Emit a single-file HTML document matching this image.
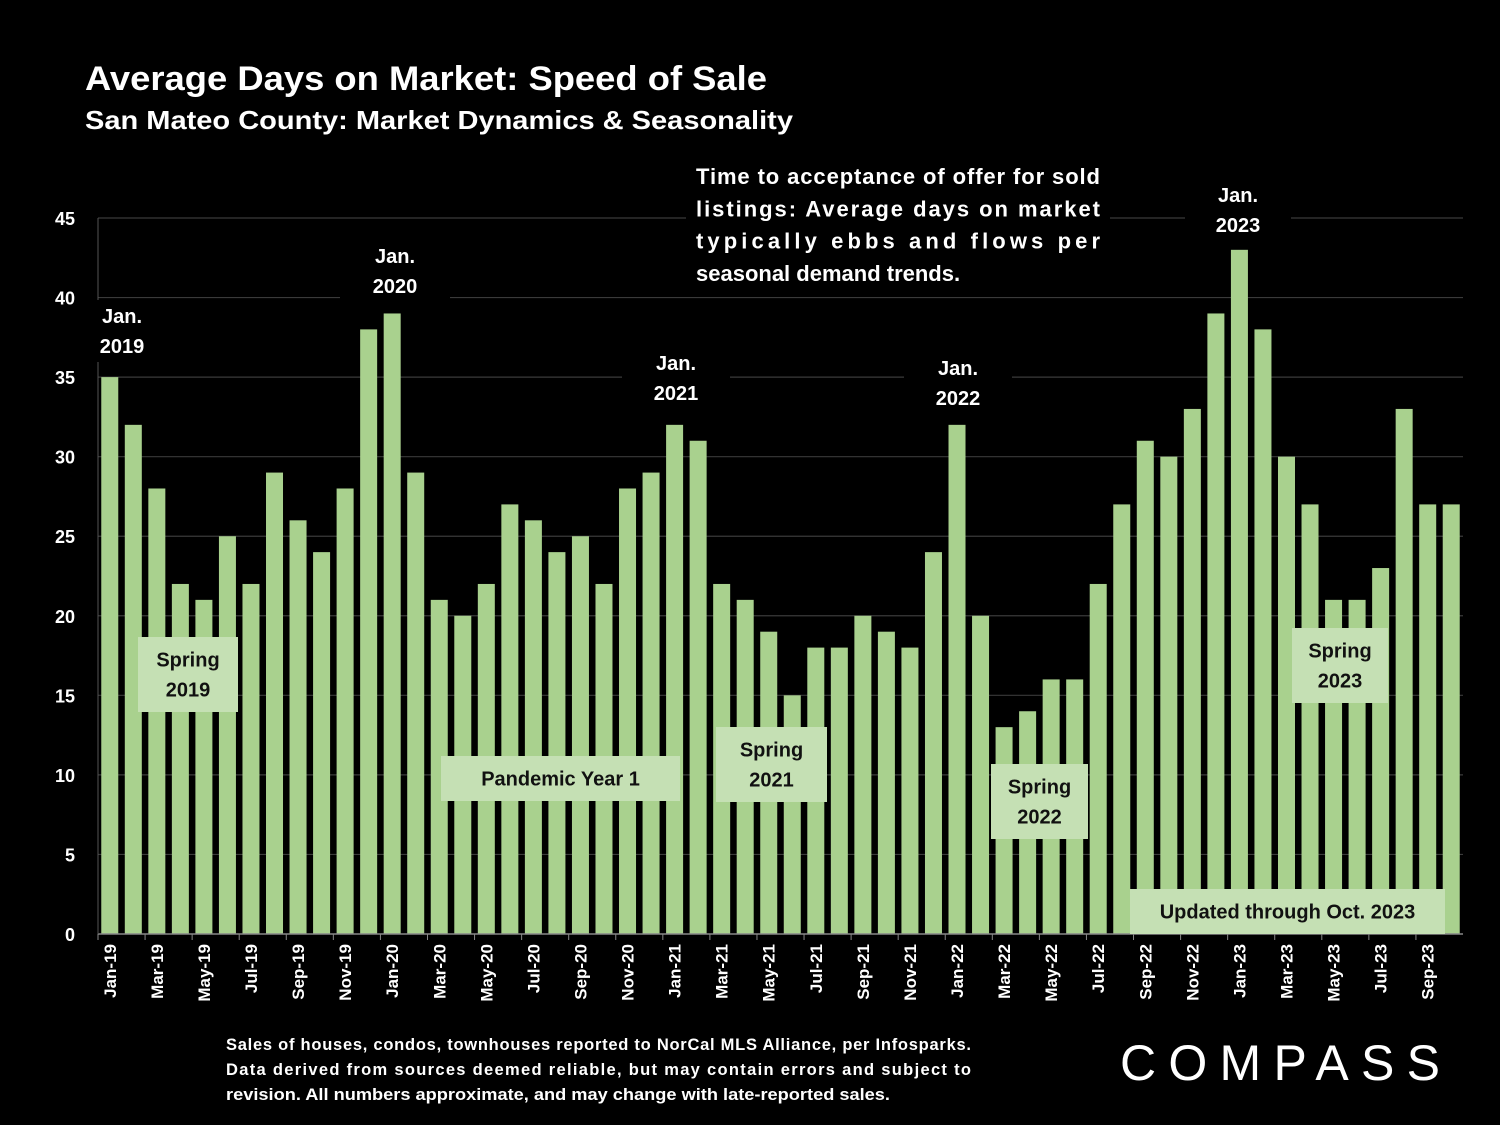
<!DOCTYPE html>
<html><head><meta charset="utf-8"><style>
body{margin:0;background:#000;}
svg{display:block;font-family:"Liberation Sans",sans-serif;font-weight:bold;}
</style></head><body>
<svg id="chart" width="1500" height="1125" viewBox="0 0 1500 1125" xmlns="http://www.w3.org/2000/svg">
<rect width="1500" height="1125" fill="#000"/>
<text x="85" y="90" fill="#fff" font-size="34" textLength="682" lengthAdjust="spacingAndGlyphs">Average Days on Market:  Speed of Sale</text>
<text x="85" y="129" fill="#fff" font-size="26" textLength="708" lengthAdjust="spacingAndGlyphs">San Mateo County: Market Dynamics &amp; Seasonality</text>
<g id="grid"></g>
<g id="bars"></g>
<g id="axes"></g>
<g id="notes"></g>
<g fill="#fff" font-size="16.5">
<text x="226" y="1050" textLength="745" lengthAdjust="spacing">Sales of houses, condos, townhouses reported to NorCal MLS Alliance, per Infosparks.</text>
<text x="226" y="1075" textLength="745" lengthAdjust="spacing">Data derived from sources deemed reliable, but may contain errors and subject to</text>
<text x="226" y="1100" textLength="664" lengthAdjust="spacingAndGlyphs">revision. All numbers approximate, and may change with late-reported sales.</text>
</g>
<text x="1120" y="1080" fill="#fff" font-size="50" font-weight="normal" textLength="320" lengthAdjust="spacing">COMPASS</text>
</svg>
<script>
const categories = ["Jan-19","Feb-19","Mar-19","Apr-19","May-19","Jun-19","Jul-19","Aug-19","Sep-19","Oct-19","Nov-19","Dec-19",
"Jan-20","Feb-20","Mar-20","Apr-20","May-20","Jun-20","Jul-20","Aug-20","Sep-20","Oct-20","Nov-20","Dec-20",
"Jan-21","Feb-21","Mar-21","Apr-21","May-21","Jun-21","Jul-21","Aug-21","Sep-21","Oct-21","Nov-21","Dec-21",
"Jan-22","Feb-22","Mar-22","Apr-22","May-22","Jun-22","Jul-22","Aug-22","Sep-22","Oct-22","Nov-22","Dec-22",
"Jan-23","Feb-23","Mar-23","Apr-23","May-23","Jun-23","Jul-23","Aug-23","Sep-23","Oct-23"];
const dom = [35,32,28,22,21,25,22,29,26,24,28,38,
39,29,21,20,22,27,26,24,25,22,28,29,
32,31,22,21,19,15,18,18,20,19,18,24,
32,20,13,14,16,16,22,27,31,30,33,39,
43,38,30,27,21,21,23,33,27,27];
const yTicks = [0,5,10,15,20,25,30,35,40,45];

const NS="http://www.w3.org/2000/svg";
const X0=98, X1=1463, Y0=934, Y45=218;
const step=(X1-X0)/categories.length;
const x=i=>X0+step*(i+0.5);
const y=v=>Y0-(Y0-Y45)*v/45;
function mk(tag,attrs,parent){const e=document.createElementNS(NS,tag);for(const k in attrs)e.setAttribute(k,attrs[k]);parent.appendChild(e);return e;}
const grid=document.getElementById('grid'),bars=document.getElementById('bars'),axes=document.getElementById('axes'),notes=document.getElementById('notes');
yTicks.forEach(t=>{
  if(t>0){const l=mk('line',{x1:X0,x2:X1,y1:y(t),y2:y(t),stroke:'#3a3a3a','stroke-width':1.2},grid);
  
  }
  const tx=mk('text',{x:75,y:y(t)+7,fill:'#fff','font-size':18,'text-anchor':'end'},axes);
  tx.textContent=t;
  
  
});
dom.forEach((v,i)=>{
  const r=mk('rect',{x:x(i)-8.5,y:y(v),width:17,height:Y0-y(v),fill:'#a9d18e'},bars);
  
  
});
const ax=mk('line',{x1:X0,x2:X1,y1:Y0,y2:Y0,stroke:'#888','stroke-width':1.5},axes);


const ay=mk('line',{x1:X0,x2:X0,y1:Y45,y2:Y0,stroke:'#555','stroke-width':1},axes);


categories.forEach((c,i)=>{
  if(i%2===0){
    mk('line',{x1:X0+step*i,x2:X0+step*i,y1:Y0,y2:Y0+6,stroke:'#888'},axes);
    const t=mk('text',{x:0,y:0,fill:'#fff','font-size':17,'text-anchor':'end',transform:`translate(${x(i)+6},944) rotate(-90)`},axes);
    t.textContent=c;
    
    
  }
});
function box(x0,y0,w,h,lines,fill,color,name){
  const g=mk('g',{},notes);
  
  
  mk('rect',{x:x0,y:y0,width:w,height:h,fill:fill},g);
  const lh=30, start=y0+h/2-(lines.length-1)*lh/2+7;
  lines.forEach((s,k)=>{const t=mk('text',{x:x0+w/2,y:start+k*lh,fill:color,'font-size':20,'text-anchor':'middle'},g);t.textContent=s;});
}
const LG='#c5e0b4';
box(138,637,100,75,['Spring','2019'],LG,'#111','spring-2019-label');
box(441,756,239,45,['Pandemic Year 1'],LG,'#111','pandemic-year-1-label');
box(716,727,111,75,['Spring','2021'],LG,'#111','spring-2021-label');
box(991,764,97,75,['Spring','2022'],LG,'#111','spring-2022-label');
box(1292,628,96,75,['Spring','2023'],LG,'#111','spring-2023-label');
box(1130,889,315,45,['Updated through Oct. 2023'],LG,'#111','updated-through-label');
box(86,300,72,62,['Jan.','2019'],'#000','#fff','jan-2019-label');
box(340,240,110,62,['Jan.','2020'],'#000','#fff','jan-2020-label');
box(622,347,108,62,['Jan.','2021'],'#000','#fff','jan-2021-label');
box(904,352,108,62,['Jan.','2022'],'#000','#fff','jan-2022-label');
box(1185,179,106,62,['Jan.','2023'],'#000','#fff','jan-2023-label');
const tg=mk('g',{},notes);


mk('rect',{x:686,y:155,width:424,height:132,fill:'#000'},tg);
[['Time to acceptance of offer for sold',true],['listings: Average days on market',true],['typically ebbs and flows per',true],['seasonal demand trends.',false]].forEach((l,k)=>{
  const a={x:696,y:184+k*32.3,fill:'#fff','font-size':22};
  if(l[1]){a.textLength=404;a.lengthAdjust='spacing';}
  const t=mk('text',a,tg);t.textContent=l[0];
});
</script>
</body></html>
